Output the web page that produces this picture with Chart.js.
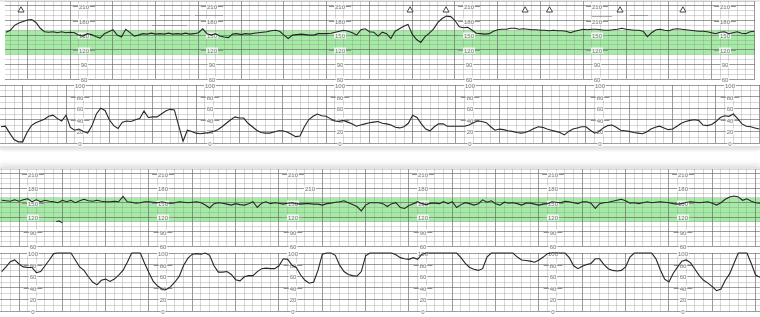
<!DOCTYPE html>
<html>
<head>
<meta charset="utf-8">
<script src="https://cdn.jsdelivr.net/npm/chart.js@4.4.1/dist/chart.umd.min.js"></script>
<style>
  html, body { margin: 0; padding: 0; background: #fff; }
  body { width: 760px; height: 317px; position: relative; overflow: hidden; }
  .strip { position: absolute; left: 0; width: 760px; background: #fff; }
  #strip1 { top: 0; height: 144px; border-top: 2px solid #e8e8e8; border-bottom: 2px solid #e2e2e2; box-shadow: 0 2px 3px rgba(0,0,0,0.12); }
  #strip2 { top: 167px; height: 152px; border-top: 2px solid #e4e4e4; box-shadow: 0 -3px 4px rgba(0,0,0,0.10); }
  canvas { position: absolute; left: 0; }
</style>
</head>
<body>
<div class="strip" id="strip1"></div>
<div class="strip" id="strip2"></div>
<canvas id="fhr1"></canvas>
<canvas id="uc1"></canvas>
<canvas id="fhr2"></canvas>
<canvas id="uc2"></canvas>

<script>
// CTG strips: fetal heart rate (bpm) on top, uterine activity below, two strips.
// one sample every 0.1 minute, times in minutes from the first full-minute line

const SAMPLE_MIN = 0.1;
const strip1Start = -0.5;
const strip2Start = -0.4;

const fhr1 = [
  156,160,170,175,178,181,182,176,164,157,
  156,157,155,157,155,156,155,150,148,153,
  151,147,144,153,157,161,150,146,162,155,
  148,150,153,152,154,152,153,152,154,152,
  153,152,154,152,153,155,163,153,150,153,
  148,146,145,152,153,151,153,152,154,155,
  156,157,159,160,158,150,143,150,151,152,
  151,150,150,153,153,153,154,156,158,160,
  158,155,150,161,163,157,156,148,156,153,
  143,158,163,168,172,152,141,135,147,154,
  163,176,184,189,188,180,167,165,166,160,
  154,153,152,153,158,161,162,162,164,164,
  162,163,162,161,161,160,160,159,160,159,
  159,158,155,158,160,162,161,162,162,161,
  160,160,161,162,164,162,161,160,160,158,
  147,155,161,162,160,159,162,163,162,161,
  160,159,158,158,157,155,153,156,157,153,
  155,157,154,153,157,158
];

const uc1 = [
  28,29,17,6,2,2,18,30,35,38,
  41,46,48,42,38,48,27,22,24,20,
  17,30,50,60,56,40,30,25,36,38,
  37,40,42,55,44,45,45,50,55,58,
  57,30,3,22,20,17,16,17,18,20,
  23,28,34,40,45,43,43,34,28,22,
  18,17,17,19,21,21,19,15,11,12,
  28,40,46,50,47,46,42,38,37,39,
  36,33,29,31,33,35,36,37,34,33,
  31,27,26,28,34,48,44,33,24,21,
  28,33,33,29,29,29,29,29,31,35,
  38,37,35,28,22,24,23,21,20,18,
  17,18,21,25,28,27,24,22,20,18,
  14,20,24,26,28,28,22,17,20,26,
  30,31,27,22,21,20,18,17,16,19,
  24,27,29,26,23,24,29,34,37,39,
  40,39,31,30,32,37,44,47,46,50,
  42,33,29,28,26,24
];

const fhr2 = [
  155,154,153,156,153,156,158,152,156,152,
  155,153,152,150,155,152,155,150,154,157,
  154,153,155,153,152,152,153,152,163,152,
  151,149,150,152,152,151,150,152,150,149,
  150,152,151,150,151,152,150,145,139,148,
  150,149,147,145,148,146,145,148,152,140,
  149,152,148,150,149,147,149,150,148,147,
  148,148,147,147,145,148,149,151,152,154,
  150,146,142,133,145,150,150,150,148,142,
  148,150,140,138,144,148,152,148,146,149,
  149,148,152,148,152,140,146,150,148,145,
  148,156,151,154,148,145,151,149,150,148,
  145,149,149,147,145,147,148,152,151,150,
  153,152,150,148,152,152,149,138,148,150,
  151,153,155,157,154,149,150,148,150,152,
  150,151,152,151,150,148,147,148,151,152,
  151,150,151,152,149,145,150,157,162,164,
  162,155,158,153,150,149
];

const uc2 = [
  68,76,85,88,81,76,75,75,66,68,
  78,88,99,100,100,100,100,88,76,70,
  59,50,45,53,55,51,55,62,70,84,
  100,100,100,82,66,51,43,38,37,42,
  50,60,79,91,98,99,98,100,96,78,
  67,67,68,63,54,52,59,61,61,68,
  73,74,73,73,78,90,89,79,75,62,
  53,48,50,70,98,100,100,96,79,68,
  63,61,60,68,95,100,100,100,100,100,
  100,97,92,90,89,92,89,98,100,100,
  100,100,100,100,100,100,92,82,75,72,
  70,73,93,100,100,100,100,100,100,93,
  88,87,86,84,88,93,99,100,100,100,
  100,92,78,73,77,80,82,90,90,80,
  73,70,69,70,76,93,100,100,100,100,
  100,90,71,55,50,65,76,86,88,83,
  72,61,53,48,42,35,38,53,64,82,
  100,100,100,82,62,58
];

// short lost-signal piece below the strip 2 baseline
const fhr2BlipTime = [0.86, 0.93, 1.0];
const fhr2Blip = [111, 112, 108];

// fetal movement marks on strip 1 (minutes)
const movement1 = [-0.15, 8.95, 9.79, 11.64, 12.21, 13.86, 15.33];
const MOVEMENT_LEVEL = 201;

const fhrLabels = [210, 180, 150, 120, 90, 60];
const ucLabels = [100, 80, 60, 40, 20, 0];
const normalBand = [110, 160];

// scale label columns (minutes)
const labelCols1 = [1.32, 4.32, 7.32, 10.32, 13.32, 16.32];
const labelCols2 = [0.32, 3.32, 6.32, 9.32, 12.32, 15.32];

// ---- layout ----
const PX_PER_MIN = 43.33;
const PAD = 5;
const MAJOR = 'rgba(95,95,95,0.62)';
const MINOR = 'rgba(140,140,140,0.34)';
const BAND = 'rgb(165,235,165)';
const TRACE = '#262626';

function xRange(zeroPx) {
  const min = -zeroPx / PX_PER_MIN;
  return { min, max: min + 760 / PX_PER_MIN };
}

function series(start, values) {
  return values.map((v, i) => ({ x: +(start + i * SAMPLE_MIN).toFixed(2), y: v }));
}

const paperPlugin = {
  id: 'paper',
  beforeDraw(chart, args, o) {
    if (!o.band) return;
    const { ctx, chartArea: a, scales: { y } } = chart;
    const top = y.getPixelForValue(o.band[1]);
    const bot = y.getPixelForValue(o.band[0]);
    ctx.save();
    ctx.fillStyle = BAND;
    ctx.fillRect(a.left, top, a.right - a.left, bot - top);
    ctx.restore();
  },
  beforeDatasetsDraw(chart, args, o) {
    const { ctx, scales: { x, y } } = chart;
    ctx.save();
    // greyed-out annotation scraps
    ctx.strokeStyle = 'rgba(120,120,120,0.6)';
    ctx.lineWidth = 1;
    (o.scraps || []).forEach(s => {
      ctx.beginPath();
      ctx.moveTo(s[0], s[1] - o.canvasTop + 0.5);
      ctx.lineTo(s[2], s[3] - o.canvasTop + 0.5);
      ctx.stroke();
    });
    ctx.font = '6px "Liberation Sans", sans-serif';
    ctx.textAlign = 'center';
    ctx.textBaseline = 'middle';
    o.cols.forEach((t, ci) => {
      const cx = Math.round(x.getPixelForValue(t));
      o.labels.forEach(v => {
        let text = String(v), dx = 0;
        const ov = (o.overrides || []).find(q => q.col === ci && q.value === v);
        if (ov) { text = ov.text; dx = ov.dx; }
        const px = cx + dx;
        const py = Math.round(y.getPixelForValue(v)) + 0.5;
        const w = ctx.measureText(text).width;
        ctx.strokeStyle = '#969696';
        ctx.beginPath();
        ctx.moveTo(px - w / 2 - 6, py);
        ctx.lineTo(px + w / 2 + 6, py);
        ctx.stroke();
        ctx.fillStyle = 'rgba(255,255,255,0.8)';
        ctx.fillRect(px - w / 2 - 1, py - 3, w + 2, 6);
        ctx.fillStyle = '#777';
        ctx.fillText(text, px, py + 0.5);
      });
    });
    ctx.restore();
  }
};

function makePanel(id, p) {
  const canvas = document.getElementById(id);
  canvas.width = 760;
  canvas.height = p.height + 2 * PAD;
  canvas.style.top = (p.top - PAD) + 'px';
  const xr = xRange(p.zeroPx);

  const lineSet = (data) => ({
    data, borderColor: TRACE, borderWidth: 1.1, pointRadius: 0,
    tension: 0, clip: 6, spanGaps: false
  });
  const datasets = p.series.map(lineSet);
  if (p.marks) {
    datasets.push({
      data: p.marks, showLine: false, pointStyle: 'triangle', pointRadius: 3.5,
      pointBorderColor: '#444', pointBackgroundColor: '#fff', pointBorderWidth: 1, clip: 6
    });
  }

  new Chart(canvas, {
    type: 'line',
    data: { datasets },
    options: {
      responsive: false,
      animation: false,
      devicePixelRatio: 1,
      events: [],
      layout: { padding: { top: PAD, bottom: PAD, left: 0, right: 0 } },
      plugins: {
        legend: { display: false },
        tooltip: { enabled: false },
        paper: {
          band: p.band, cols: p.cols, labels: p.labels,
          overrides: p.overrides, scraps: p.scraps, canvasTop: p.top - PAD
        }
      },
      scales: {
        x: {
          type: 'linear', min: xr.min, max: xr.max,
          ticks: { display: false },
          border: { display: false },
          grid: {
            drawTicks: false, lineWidth: 1,
            color: c => (c.tick && c.tick.major ? MAJOR : MINOR)
          },
          afterBuildTicks: s => {
            const ticks = [];
            for (let k = Math.ceil(s.min / 0.2); k * 0.2 <= s.max; k++) {
              ticks.push({ value: k * 0.2, major: k % 5 === 0 });
            }
            s.ticks = ticks;
          }
        },
        y: {
          min: p.yMin, max: p.yMax,
          ticks: { display: false },
          border: { display: false },
          grid: {
            drawTicks: false, lineWidth: 1,
            color: c => (c.tick && c.tick.major ? MAJOR : MINOR)
          },
          afterBuildTicks: s => {
            const ticks = [];
            for (let v = p.yMin; v <= p.yMax; v += 10) {
              ticks.push({ value: v, major: (v - p.majorFrom) % p.majorStep === 0 });
            }
            s.ticks = ticks;
          }
        }
      }
    },
    plugins: [paperPlugin]
  });
}

makePanel('fhr1', {
  top: 1, height: 78, yMin: 60, yMax: 220, majorFrom: 60, majorStep: 30, zeroPx: 22.7,
  series: [series(strip1Start, fhr1)],
  marks: movement1.map(t => ({ x: t, y: MOVEMENT_LEVEL })),
  band: normalBand, cols: labelCols1, labels: fhrLabels,
  overrides: [{ col: 4, value: 180, text: '210', dx: 0 }],
  scraps: [[160, 15, 190, 15], [152, 25, 187, 25], [195, 15, 223, 15],
           [592, 16, 612, 16], [630, 15, 648, 15]]
});

makePanel('uc1', {
  top: 85, height: 58, yMin: 0, yMax: 100, majorFrom: 0, majorStep: 20, zeroPx: 22.7,
  series: [series(strip1Start, uc1)],
  cols: labelCols1, labels: ucLabels
});

makePanel('fhr2', {
  top: 169, height: 77, yMin: 60, yMax: 220, majorFrom: 60, majorStep: 30, zeroPx: 19,
  series: [series(strip2Start, fhr2), fhr2BlipTime.map((t, i) => ({ x: t, y: fhr2Blip[i] }))],
  band: normalBand, cols: labelCols2, labels: fhrLabels,
  overrides: [{ col: 2, value: 180, text: '210', dx: 17 }]
});

makePanel('uc2', {
  top: 253, height: 58, yMin: 0, yMax: 100, majorFrom: 0, majorStep: 20, zeroPx: 19,
  series: [series(strip2Start, uc2)],
  cols: labelCols2, labels: ucLabels
});
</script>
</body>
</html>
